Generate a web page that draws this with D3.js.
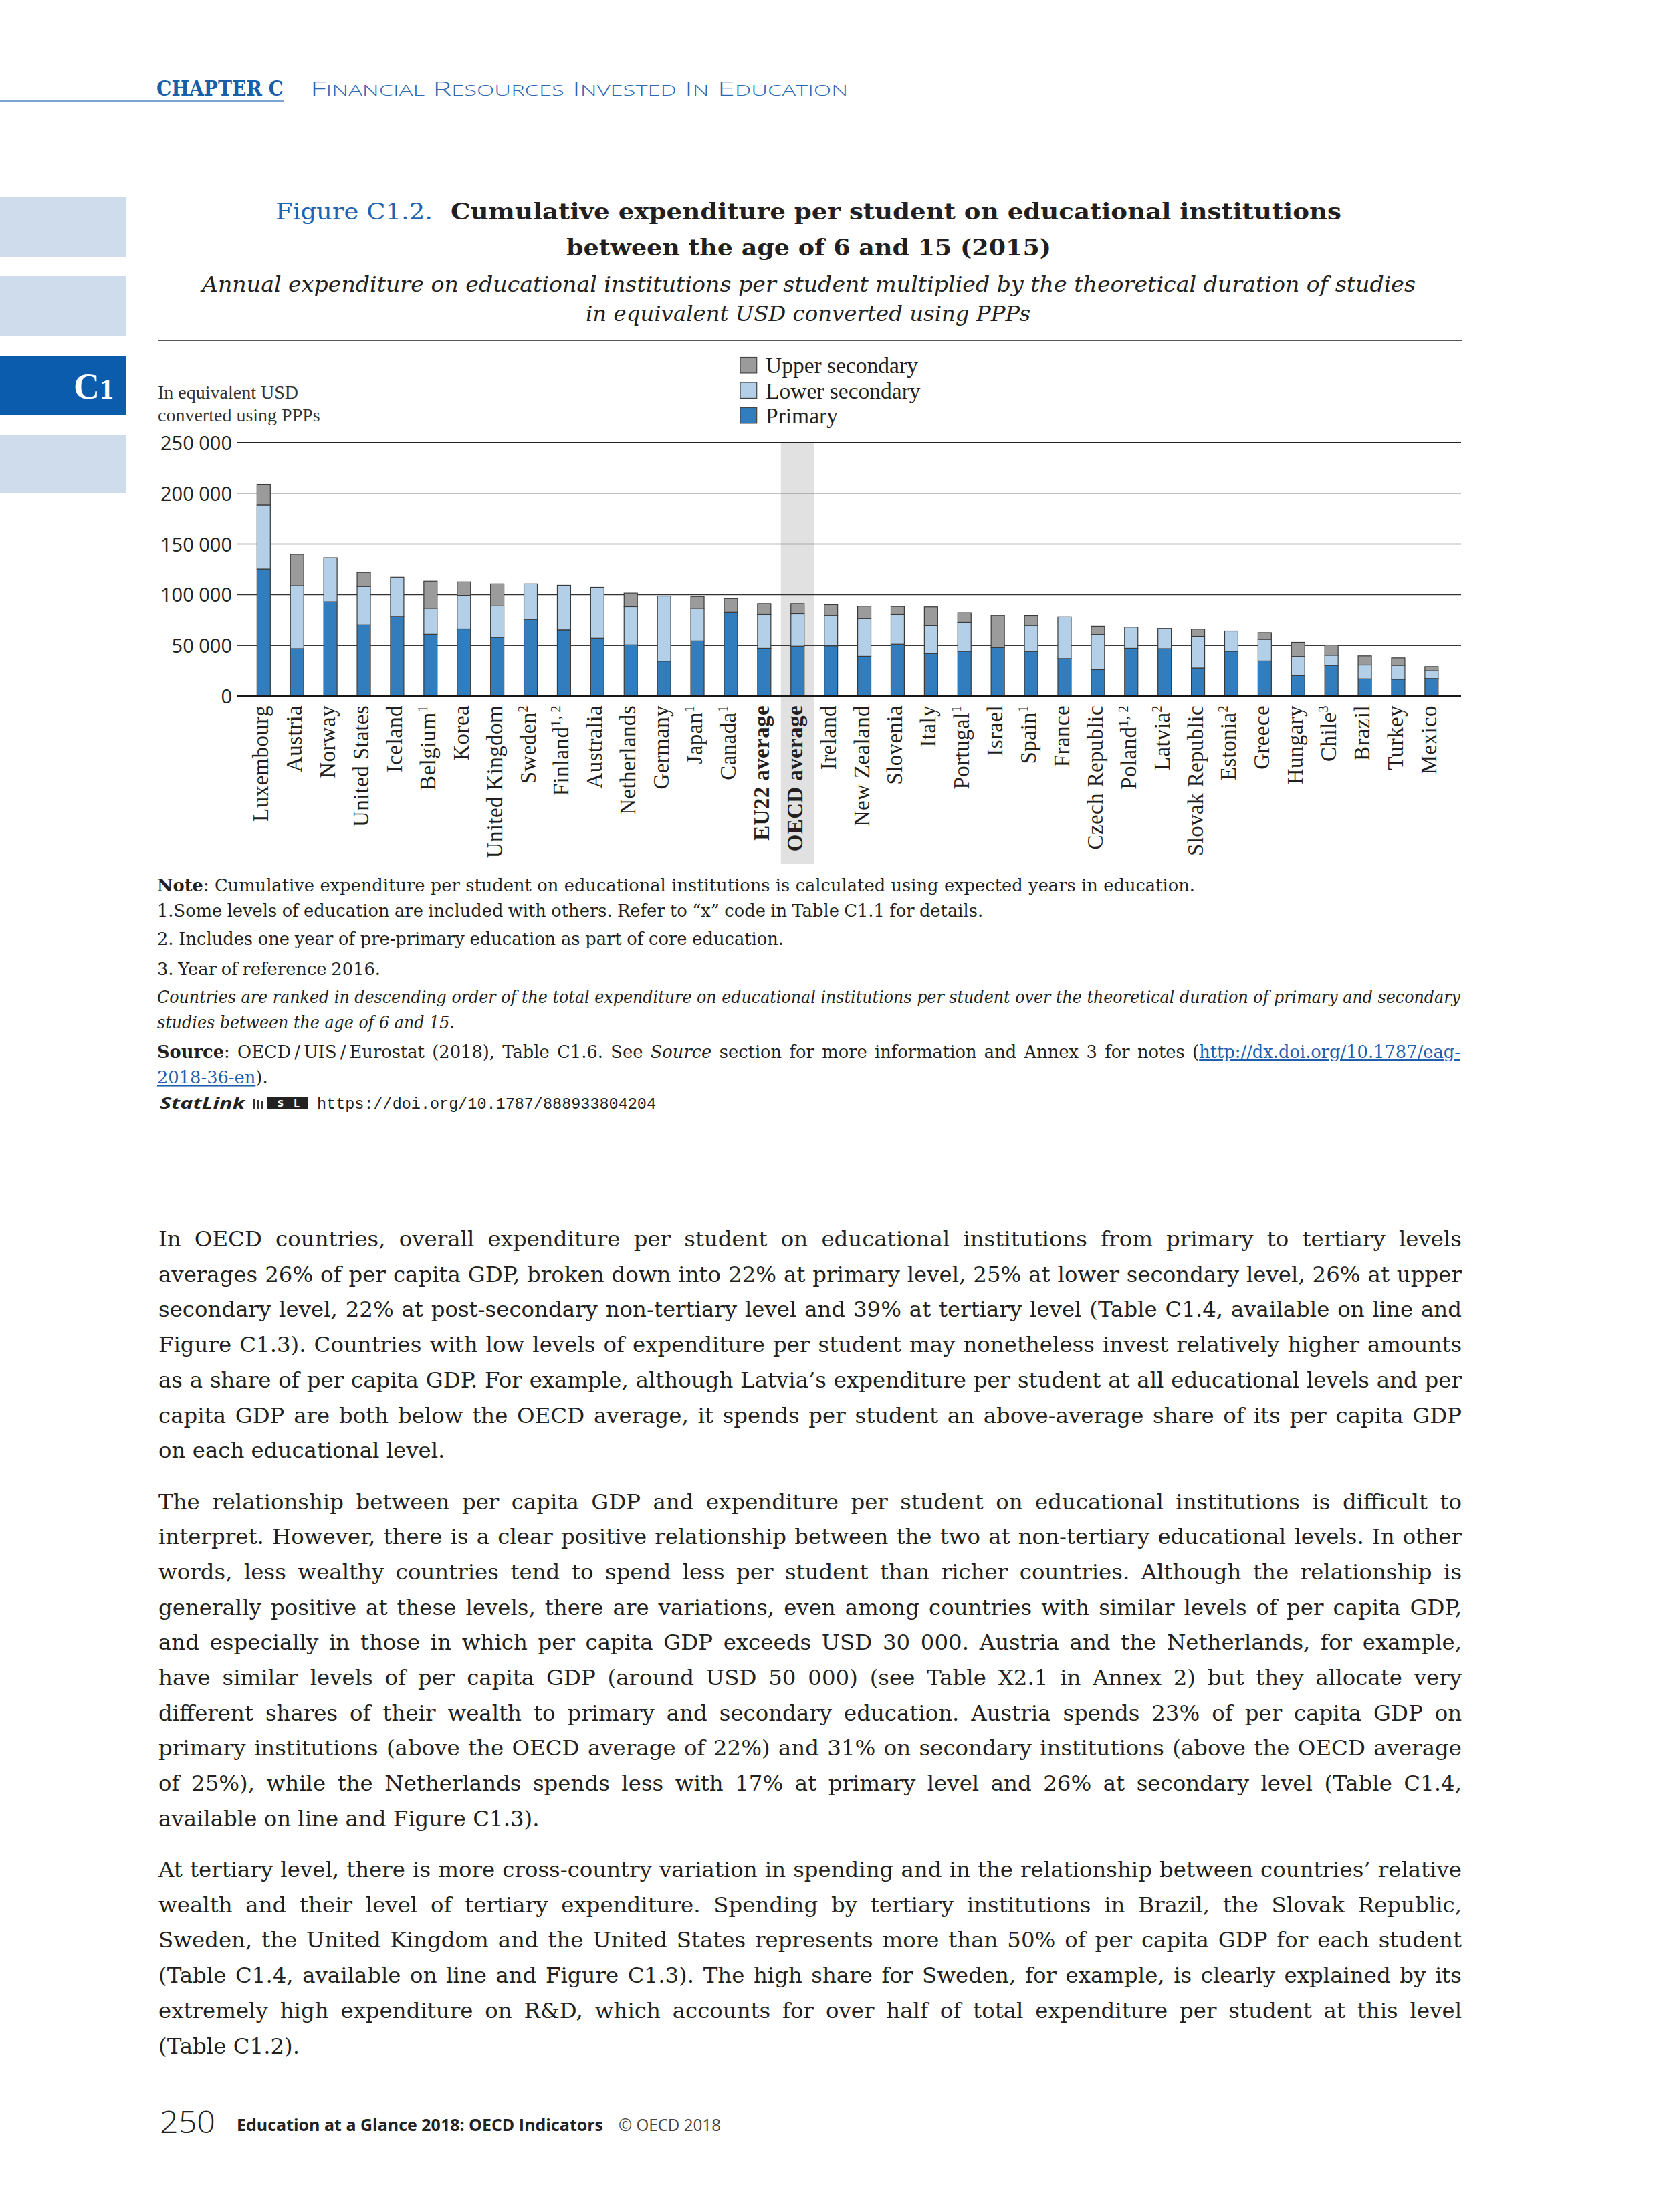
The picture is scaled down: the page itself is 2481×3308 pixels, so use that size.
<!DOCTYPE html>
<html><head><meta charset="utf-8">
<script src="https://cdn.jsdelivr.net/npm/d3@7"></script>
<style>
html,body{margin:0;padding:0;background:#fff;}
svg{display:block;}
</style></head>
<body>
<svg id="page" width="2481" height="3308"></svg>
<script>
// ---------------- DATA ----------------
const categories = ["Luxembourg","Austria","Norway","United States","Iceland","Belgium","Korea","United Kingdom","Sweden","Finland","Australia","Netherlands","Germany","Japan","Canada","EU22 average","OECD average","Ireland","New Zealand","Slovenia","Italy","Portugal","Israel","Spain","France","Czech Republic","Poland","Latvia","Slovak Republic","Estonia","Greece","Hungary","Chile","Brazil","Turkey","Mexico"];
const superscripts = ["","","","","","1","","","2","1, 2","","","","1","1","","","","","","","1","","1","","","1, 2","2","","2","","","3","","",""];
const boldCategories = ["EU22 average","OECD average"];
const highlightCategory = "OECD average";
const primary =        [125300,46800,92900,70400,78600,61100,66300,58100,75800,65400,57200,50600,34500,54500,82900,47200,49300,49700,39300,51300,42000,44300,47900,44100,37000,26100,47200,46800,27700,44300,34700,20200,30400,17000,16600,17300];
const lowerSecondary = [63400,62000,43600,37700,38600,25200,32900,30700,34800,43800,50000,37500,64100,31800,0,33600,32200,30000,37400,29500,27700,28600,0,25800,41300,34800,20900,20000,31300,20000,21400,18900,10000,13700,13800,7700];
const upperSecondary = [20000,31100,0,13800,0,27000,13400,21800,0,0,0,13400,0,11800,13200,10300,9600,10400,11900,7500,18200,9500,31800,9600,0,8100,0,0,7100,0,6600,14000,10000,9000,7300,4100];
const seriesNames = ["Primary","Lower secondary","Upper secondary"];
const legendOrder = ["Upper secondary","Lower secondary","Primary"];
const yTicks = [0,50000,100000,150000,200000,250000];

// ---------------- PAGE ----------------
const svg = d3.select("#page");
svg.append("rect").attr("width",2481).attr("height",3308).attr("fill","#fff");
const INK = "#231f20";
const SERIF = "'Liberation Serif', 'Times New Roman', serif";
const DSERIF = "'DejaVu Serif', serif";
const SANS = "'Open Sans', 'Noto Sans', sans-serif";

function fitWords(sel, target){
  const node = sel.node();
  const w = node.getComputedTextLength();
  const n = (node.textContent.match(/ /g)||[]).length;
  if(n>0) sel.style("word-spacing", ((target - w)/n).toFixed(2) + "px");
}
function sizeFor(font, lines, target){
  const ref = 30;
  const t = svg.append("text").style("font-family",font).style("font-size",ref+"px");
  let m = 0;
  lines.forEach(s=>{ t.text(s); m = Math.max(m, t.node().getComputedTextLength()); });
  t.remove();
  return ref*target/m;
}
function line(parent, parts, x, yb, font, size, opts){
  opts = opts || {};
  const t = parent.append("text").attr("x",x).attr("y",yb)
    .style("font-family",font).style("font-size",size+"px").attr("fill",opts.fill||INK);
  if(opts.italic) t.style("font-style","italic");
  if(opts.weight) t.style("font-weight",opts.weight);
  parts.forEach(p=>{
    if(typeof p === "string"){ t.append("tspan").text(p); return; }
    const s = t.append("tspan").text(p.t);
    if(p.b) s.style("font-weight","bold");
    if(p.i) s.style("font-style","italic");
    if(p.link) s.attr("fill","#1f5fae").style("text-decoration","underline");
  });
  if(opts.width) fitWords(t, opts.width);
  if(opts.len) t.attr("textLength",opts.len).attr("lengthAdjust","spacingAndGlyphs");
  return t;
}

// header
const hdr = svg.append("g");
hdr.append("line").attr("x1",0).attr("x2",424).attr("y1",151).attr("y2",151).attr("stroke","#7aa6d6").attr("stroke-width",2.5);
hdr.append("text").attr("x",234).attr("y",143).text("CHAPTER C")
  .style("font-family","'DejaVu Serif Condensed','DejaVu Serif',serif").style("font-weight","bold").style("font-size","31px")
  .attr("fill","#1a5ea8").attr("textLength",190).attr("lengthAdjust","spacingAndGlyphs");
const sc = hdr.append("text").attr("x",464).attr("y",143).attr("fill","#2a68b2")
  .style("font-family",SANS).style("font-weight","300")
  .attr("textLength",804).attr("lengthAdjust","spacingAndGlyphs");
"Financial Resources Invested In Education".split(" ").forEach((w,i)=>{
  sc.append("tspan").style("font-size","30px").text((i?" ":"")+w[0]);
  sc.append("tspan").style("font-size","22px").text(w.slice(1).toUpperCase());
});

// side tabs
const tabs = svg.append("g");
[[295,384,"#cfdcec"],[413,502,"#cfdcec"],[532,620,"#0b5cad"],[650,738,"#cfdcec"]].forEach(d=>{
  tabs.append("rect").attr("x",0).attr("y",d[0]).attr("width",189).attr("height",d[1]-d[0]).attr("fill",d[2]);
});
const c1 = tabs.append("text").attr("x",110).attr("y",596).attr("fill","#fff")
  .style("font-family",SERIF).style("font-weight","bold");
c1.append("tspan").style("font-size","54px").text("C");
c1.append("tspan").style("font-size","42px").text("1");

// titles
line(svg,["Figure C1.2."],412,328,DSERIF,34,{fill:"#1d64b0",len:235});
line(svg,["Cumulative expenditure per student on educational institutions"],674,328,DSERIF,34,{weight:"bold",len:1332});
line(svg,["between the age of 6 and 15 (2015)"],847,382,DSERIF,34,{weight:"bold",len:725});
line(svg,["Annual expenditure on educational institutions per student multiplied by the theoretical duration of studies"],302,436,DSERIF,31,{italic:true,len:1815});
line(svg,["in equivalent USD converted using PPPs"],876,480,DSERIF,31,{italic:true,len:665});
svg.append("line").attr("x1",236).attr("x2",2186).attr("y1",509).attr("y2",509).attr("stroke","#555").attr("stroke-width",2);

// ---------------- CHART ----------------
const chart = svg.append("g");
const y = d3.scaleLinear().domain([0,250000]).range([1041,662]);
const x = d3.scaleBand().domain(categories).range([359.4,2175.8]).paddingInner(0.6).paddingOuter(0.5).align(0.5);
const colors = d3.scaleOrdinal().domain(seriesNames).range(["#317dbd","#b4d0e8","#9b9b9b"]);
const table = categories.map((c,i)=>({cat:c,"Primary":primary[i],"Lower secondary":lowerSecondary[i],"Upper secondary":upperSecondary[i]}));
const stacked = d3.stack().keys(seriesNames)(table);

// OECD highlight band
const hc = x(highlightCategory) + x.bandwidth()/2;
chart.append("rect").attr("x",hc - x.step()/2).attr("width",x.step())
  .attr("y",y(250000)).attr("height",1292 - y(250000)).attr("fill","#e1e1e1");

// gridlines
const gridStyle = {0:["#1a1a1a",2.6],50000:["#3a3a3a",1.5],100000:["#333",1.5],150000:["#777",1.5],200000:["#808080",1.5],250000:["#222",2.2]};
chart.append("g").selectAll("line").data(yTicks.filter(d=>d>0)).join("line")
  .attr("x1",354).attr("x2",2185).attr("y1",d=>y(d)).attr("y2",d=>y(d))
  .attr("stroke",d=>gridStyle[d][0]).attr("stroke-width",d=>gridStyle[d][1]);

// y axis labels
const yAxis = d3.axisLeft(y).tickValues(yTicks).tickSize(0).tickPadding(0)
  .tickFormat(d=>d3.format(",")(d).replace(/,/g," "));
const ya = chart.append("g").attr("transform","translate(347,0)").call(yAxis);
ya.select(".domain").remove();
ya.selectAll("text").style("font-family",SANS).style("font-size","29px").attr("fill","#222").attr("dy","0.36em");

// bars
chart.append("g").selectAll("g").data(stacked).join("g")
  .attr("fill",d=>colors(d.key))
  .selectAll("rect").data(d=>d.filter(s=>s[1]-s[0]>0)).join("rect")
  .attr("x",d=>x(d.data.cat)).attr("width",x.bandwidth())
  .attr("y",d=>y(d[1])).attr("height",d=>y(d[0])-y(d[1]))
  .attr("stroke","#3a3a3a").attr("stroke-width",1.2);

// baseline
chart.append("line").attr("x1",354).attr("x2",2185).attr("y1",y(0)).attr("y2",y(0))
  .attr("stroke",gridStyle[0][0]).attr("stroke-width",gridStyle[0][1]);

// x labels
const xl = chart.append("g").selectAll("text").data(categories).join("text")
  .attr("transform",d=>`translate(${x(d)+x.bandwidth()/2},1055) rotate(-90)`)
  .attr("text-anchor","end").attr("dy","7px")
  .style("font-family",SERIF).style("font-size","33px").style("letter-spacing","0.4px")
  .style("font-weight",d=>boldCategories.includes(d)?"bold":"normal")
  .attr("fill",INK);
xl.append("tspan").text(d=>d);
xl.each(function(d,i){
  if(superscripts[i]) d3.select(this).append("tspan").attr("dy","-12").style("font-size","20px").text(superscripts[i]);
});

// y title
line(chart,["In equivalent USD"],236,596,SERIF,28,{fill:"#333"});
line(chart,["converted using PPPs"],236,630,SERIF,28,{fill:"#333"});

// legend
const lg = chart.append("g").selectAll("g").data(legendOrder).join("g")
  .attr("transform",(d,i)=>`translate(1107,${534.5 + i*37.5})`);
lg.append("rect").attr("width",24.7).attr("height",23.4).attr("fill",d=>colors(d)).attr("stroke","#444").attr("stroke-width",1.2);
lg.append("text").attr("x",38).attr("y",23.5).text(d=>d)
  .style("font-family",SERIF).style("font-size","33.5px").attr("fill",INK);

// ---------------- NOTES ----------------
const notes = svg.append("g");
const NS = sizeFor(DSERIF,["Note: Cumulative expenditure per student on educational institutions is calculated using expected years in education."],1545);
line(notes,[{t:"Note",b:true},": Cumulative expenditure per student on educational institutions is calculated using expected years in education."],235,1333,DSERIF,NS,{width:1552});
line(notes,["1.Some levels of education are included with others. Refer to “x” code in Table C1.1 for details."],235,1371,DSERIF,NS,{width:1235});
line(notes,["2. Includes one year of pre-primary education as part of core education."],235,1413,DSERIF,NS,{width:937});
line(notes,["3. Year of reference 2016."],235,1458,DSERIF,NS,{width:334});
// italic ranking note: condensed to fit like the reference's narrow italic
const it1 = line(notes,["Countries are ranked in descending order of the total expenditure on educational institutions per student over the theoretical duration of primary and secondary"],235,1500,DSERIF,NS,{italic:true});
const it2 = line(notes,["studies between the age of 6 and 15."],235,1538,DSERIF,NS,{italic:true});
const squeeze = 1949 / it1.node().getComputedTextLength();
it1.attr("textLength",1949).attr("lengthAdjust","spacingAndGlyphs");
it2.attr("textLength",(it2.node().getComputedTextLength()*squeeze).toFixed(1)).attr("lengthAdjust","spacingAndGlyphs");
line(notes,[{t:"Source",b:true},": OECD\u2009/\u2009UIS\u2009/\u2009Eurostat (2018), Table C1.6. See ",{t:"Source",i:true}," section for more information and Annex 3 for notes (",{t:"http://dx.doi.org/10.1787/eag-",link:true}],235,1582,DSERIF,NS,{width:1949});
line(notes,[{t:"2018-36-en",link:true},")."],235,1620,DSERIF,NS,{});
// StatLink
notes.append("text").attr("x",239).attr("y",1658).text("StatLink")
  .style("font-family",SANS).style("font-weight","bold").style("font-style","italic").style("font-size","24px")
  .attr("fill","#222").attr("textLength",127).attr("lengthAdjust","spacingAndGlyphs");
const ic = notes.append("g").attr("transform","translate(379,1640)");
[0,6,12].forEach((d,i)=>ic.append("rect").attr("x",d).attr("y",4+i*1).attr("width",3).attr("height",14-i).attr("fill","#333"));
ic.append("rect").attr("x",20).attr("y",0).attr("width",62).attr("height",19).attr("rx",2).attr("fill","#222");
ic.append("text").attr("x",36).attr("y",15).text("s").style("font-family",SANS).style("font-weight","bold").style("font-size","18px").attr("fill","#fff");
ic.append("text").attr("x",60).attr("y",16).text("L").style("font-family",SANS).style("font-weight","bold").style("font-size","16px").attr("fill","#fff");
notes.append("text").attr("x",474).attr("y",1658).text("https://doi.org/10.1787/888933804204")
  .style("font-family","'Liberation Mono','DejaVu Sans Mono',monospace").style("font-size","24px")
  .attr("fill","#222").attr("textLength",507).attr("lengthAdjust","spacingAndGlyphs");

// ---------------- BODY TEXT ----------------
const paragraphs = [
 {y0:1864, lines:[
  "In OECD countries, overall expenditure per student on educational institutions from primary to tertiary levels",
  "averages 26% of per capita GDP, broken down into 22% at primary level, 25% at lower secondary level, 26% at upper",
  "secondary level, 22% at post-secondary non-tertiary level and 39% at tertiary level (Table C1.4, available on line and",
  "Figure C1.3). Countries with low levels of expenditure per student may nonetheless invest relatively higher amounts",
  "as a share of per capita GDP. For example, although Latvia’s expenditure per student at all educational levels and per",
  "capita GDP are both below the OECD average, it spends per student an above-average share of its per capita GDP",
  "on each educational level."]},
 {y0:2256.5, lines:[
  "The relationship between per capita GDP and expenditure per student on educational institutions is difficult to",
  "interpret. However, there is a clear positive relationship between the two at non-tertiary educational levels. In other",
  "words, less wealthy countries tend to spend less per student than richer countries. Although the relationship is",
  "generally positive at these levels, there are variations, even among countries with similar levels of per capita GDP,",
  "and especially in those in which per capita GDP exceeds USD 30 000. Austria and the Netherlands, for example,",
  "have similar levels of per capita GDP (around USD 50 000) (see Table X2.1 in Annex 2) but they allocate very",
  "different shares of their wealth to primary and secondary education. Austria spends 23% of per capita GDP on",
  "primary institutions (above the OECD average of 22%) and 31% on secondary institutions (above the OECD average",
  "of 25%), while the Netherlands spends less with 17% at primary level and 26% at secondary level (Table C1.4,",
  "available on line and Figure C1.3)."]},
 {y0:2807, lines:[
  "At tertiary level, there is more cross-country variation in spending and in the relationship between countries’ relative",
  "wealth and their level of tertiary expenditure. Spending by tertiary institutions in Brazil, the Slovak Republic,",
  "Sweden, the United Kingdom and the United States represents more than 50% of per capita GDP for each student",
  "(Table C1.4, available on line and Figure C1.3). The high share for Sweden, for example, is clearly explained by its",
  "extremely high expenditure on R&D, which accounts for over half of total expenditure per student at this level",
  "(Table C1.2)."]}
];
const justified = [];
paragraphs.forEach(p=>p.lines.forEach((s,i)=>{ if(i<p.lines.length-1) justified.push(s); }));
const BS = sizeFor(DSERIF, justified, 1940);
const body = svg.append("g");
paragraphs.forEach(p=>{
  p.lines.forEach((s,i)=>{
    const last = i===p.lines.length-1;
    line(body,[s],237,p.y0 + i*52.7,DSERIF,BS,last?{}:{width:1949});
  });
});

// ---------------- FOOTER ----------------
const ft = svg.append("g");
ft.append("text").attr("x",239).attr("y",3190).text("250").style("font-family",SANS).style("font-weight","300")
  .style("font-size","46px").attr("fill","#222").attr("textLength",83).attr("lengthAdjust","spacingAndGlyphs");
ft.append("text").attr("x",354).attr("y",3187).text("Education at a Glance 2018: OECD Indicators").style("font-family",SANS)
  .style("font-weight","bold").style("font-size","25px").attr("fill","#222").attr("textLength",548).attr("lengthAdjust","spacingAndGlyphs");
ft.append("text").attr("x",925).attr("y",3187).text("© OECD 2018").style("font-family",SANS)
  .style("font-size","25px").attr("fill","#444").attr("textLength",153).attr("lengthAdjust","spacingAndGlyphs");
</script>
</body></html>
